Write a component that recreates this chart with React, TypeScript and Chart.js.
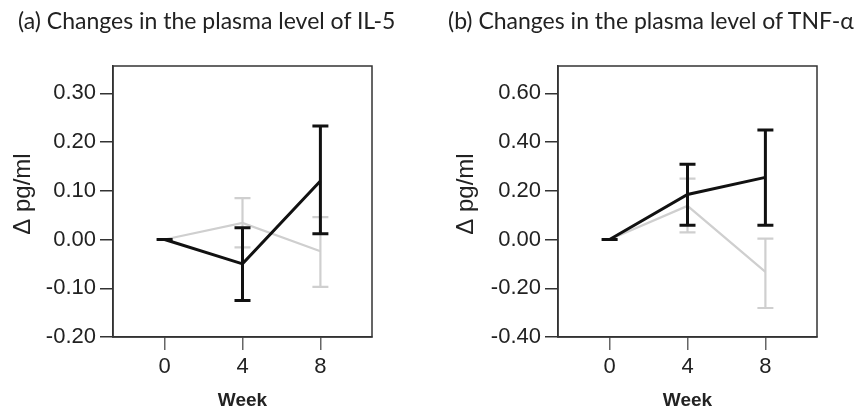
import React, { useEffect, useRef } from "react";
import { Chart, registerables } from "chart.js";

Chart.register(...registerables);

// ---------- data ----------
const weeks = [0, 4, 8];
const xTickValues = [0, 4, 8];

const il5YTicks = [-0.2, -0.1, 0, 0.1, 0.2, 0.3];
const il5BlackMean = [0, -0.05, 0.12];
const il5BlackUpper = [0, 0.024, 0.233];
const il5BlackLower = [0, -0.125, 0.012];
const il5GrayMean = [0, 0.034, -0.024];
const il5GrayUpper = [0, 0.085, 0.046];
const il5GrayLower = [0, -0.016, -0.097];

const tnfYTicks = [-0.4, -0.2, 0, 0.2, 0.4, 0.6];
const tnfBlackMean = [0, 0.185, 0.255];
const tnfBlackUpper = [0, 0.309, 0.449];
const tnfBlackLower = [0, 0.059, 0.059];
const tnfGrayMean = [0, 0.138, -0.133];
const tnfGrayUpper = [0, 0.25, 0.004];
const tnfGrayLower = [0, 0.029, -0.281];

const titleA = "(a) Changes in the plasma level of IL-5";
const titleB = "(b) Changes in the plasma level of TNF-\u03b1";
const xTitle = "Week";
const yTitle = "\u0394 pg/ml";

// ---------- plugins ----------
const errorBarPlugin = {
  id: "errorBars",
  afterDatasetDraw(chart: any, args: any, opts: any) {
    const bars = opts && opts.bars ? opts.bars[args.index] : null;
    if (!bars) return;
    const ds = chart.data.datasets[args.index];
    const xs = chart.scales.x;
    const ys = chart.scales.y;
    const ctx = chart.ctx;
    const cap = opts.cap || 8;
    ctx.save();
    ctx.strokeStyle = ds.borderColor;
    ctx.lineWidth = ds.borderWidth;
    ctx.lineCap = "butt";
    ds.data.forEach((d: any, i: number) => {
      const px = xs.getPixelForValue(d.x);
      const pu = ys.getPixelForValue(bars.upper[i]);
      const pl = ys.getPixelForValue(bars.lower[i]);
      ctx.beginPath();
      ctx.moveTo(px, pu);
      ctx.lineTo(px, pl);
      ctx.moveTo(px - cap, pu);
      ctx.lineTo(px + cap, pu);
      ctx.moveTo(px - cap, pl);
      ctx.lineTo(px + cap, pl);
      ctx.stroke();
    });
    ctx.restore();
  },
};

const framePlugin = {
  id: "frame",
  afterDraw(chart: any, _args: any, opts: any) {
    const { left, top, right, bottom } = chart.chartArea;
    const ctx = chart.ctx;
    ctx.save();
    ctx.strokeStyle = "#333";
    ctx.lineWidth = 1.5;
    ctx.strokeRect(left, top, right - left, bottom - top);
    if (opts && opts.yTitle) {
      ctx.translate(opts.yTitleX, opts.yTitleY);
      ctx.rotate(-Math.PI / 2);
      ctx.fillStyle = "#222";
      ctx.font = "24px 'Liberation Sans', Arial, sans-serif";
      ctx.textAlign = "center";
      ctx.textBaseline = "middle";
      ctx.fillText(opts.yTitle, 0, 0);
    }
    ctx.restore();
  },
};

type PanelProps = {
  title: string;
  left: number;
  width: number;
  yTicks: number[];
  yMax: number;
  blackMean: number[];
  blackUpper: number[];
  blackLower: number[];
  grayMean: number[];
  grayUpper: number[];
  grayLower: number[];
  axisWidth: number;
  padRight: number;
  yTitleX: number;
};

function Panel(p: PanelProps) {
  const ref = useRef<HTMLCanvasElement | null>(null);
  useEffect(() => {
    if (!ref.current) return;
    const H = 411;
    const chart = new Chart(ref.current, {
      type: "line",
      data: {
        datasets: [
          {
            label: "black",
            data: weeks.map((w, i) => ({ x: w, y: p.blackMean[i] })),
            borderColor: "#111",
            borderWidth: 3,
            pointRadius: 0,
            tension: 0,
            order: 1,
          },
          {
            label: "gray",
            data: weeks.map((w, i) => ({ x: w, y: p.grayMean[i] })),
            borderColor: "#cfcfcf",
            borderWidth: 2.2,
            pointRadius: 0,
            tension: 0,
            order: 2,
          },
        ],
      },
      options: {
        animation: false,
        responsive: false,
        devicePixelRatio: 1,
        layout: { padding: { top: 66, right: p.padRight, left: 0, bottom: 0 } },
        plugins: {
          legend: { display: false },
          tooltip: { enabled: false },
          errorBars: {
            cap: 8,
            bars: [
              { upper: p.blackUpper, lower: p.blackLower },
              { upper: p.grayUpper, lower: p.grayLower },
            ],
          },
          frame: { yTitle: yTitle, yTitleX: p.yTitleX, yTitleY: 194 },
        } as any,
        scales: {
          x: {
            type: "linear",
            min: -2.65,
            max: 10.65,
            afterBuildTicks: (s: any) => {
              s.ticks = xTickValues.map((v) => ({ value: v }));
            },
            afterFit: (s: any) => {
              s.height = H - 337;
            },
            grid: {
              drawOnChartArea: false,
              drawTicks: true,
              tickLength: 13,
              color: "#666",
              lineWidth: 1.5,
            },
            border: { display: true, color: "#333", width: 1.5 },
            ticks: {
              padding: 4,
              color: "#222",
              font: { family: "'Liberation Sans', Arial, sans-serif", size: 22 },
              callback: (v: any) => String(v),
            },
            title: {
              display: true,
              text: xTitle,
              color: "#222",
              font: { family: "'Liberation Sans', Arial, sans-serif", size: 19, weight: "bold" },
              padding: { top: 0, bottom: -1 },
            },
          },
          y: {
            type: "linear",
            min: p.yTicks[0],
            max: p.yMax,
            afterBuildTicks: (s: any) => {
              s.ticks = p.yTicks.map((v) => ({ value: v }));
            },
            afterFit: (s: any) => {
              s.width = p.axisWidth;
            },
            grid: {
              drawOnChartArea: false,
              drawTicks: true,
              tickLength: 13,
              color: "#333",
              lineWidth: 1.5,
            },
            border: { display: true, color: "#333", width: 1.5 },
            ticks: {
              padding: 4,
              color: "#222",
              font: { family: "'Liberation Sans', Arial, sans-serif", size: 22 },
              callback: (v: any) => Number(v).toFixed(2),
            },
            title: { display: false },
          },
        },
      },
      plugins: [errorBarPlugin, framePlugin],
    } as any);
    return () => chart.destroy();
  }, []);

  return (
    <div style={{ position: "absolute", left: p.left, top: 0, width: p.width, height: 411 }}>
      <canvas ref={ref} width={p.width} height={411} style={{ width: p.width, height: 411, display: "block" }} />
      <div
        style={{
          position: "absolute",
          left: 18,
          top: 6,
          fontFamily: "Lato, 'Open Sans', sans-serif",
          fontSize: 23,
          color: "#222",
          whiteSpace: "nowrap",
          lineHeight: "28px",
        }}
      >
        {p.title}
      </div>
    </div>
  );
}

export default function App() {
  return (
    <div style={{ position: "absolute", left: 0, top: 0, width: 861, height: 411, background: "#fff", overflow: "hidden" }}>
      <Panel
        title={titleA}
        left={0}
        width={430}
        yTicks={il5YTicks}
        yMax={0.356}
        blackMean={il5BlackMean}
        blackUpper={il5BlackUpper}
        blackLower={il5BlackLower}
        grayMean={il5GrayMean}
        grayUpper={il5GrayUpper}
        grayLower={il5GrayLower}
        axisWidth={113}
        padRight={58}
        yTitleX={23}
      />
      <Panel
        title={titleB}
        left={430}
        width={431}
        yTicks={tnfYTicks}
        yMax={0.712}
        blackMean={tnfBlackMean}
        blackUpper={tnfBlackUpper}
        blackLower={tnfBlackLower}
        grayMean={tnfGrayMean}
        grayUpper={tnfGrayUpper}
        grayLower={tnfGrayLower}
        axisWidth={128}
        padRight={44}
        yTitleX={36}
      />
    </div>
  );
}
